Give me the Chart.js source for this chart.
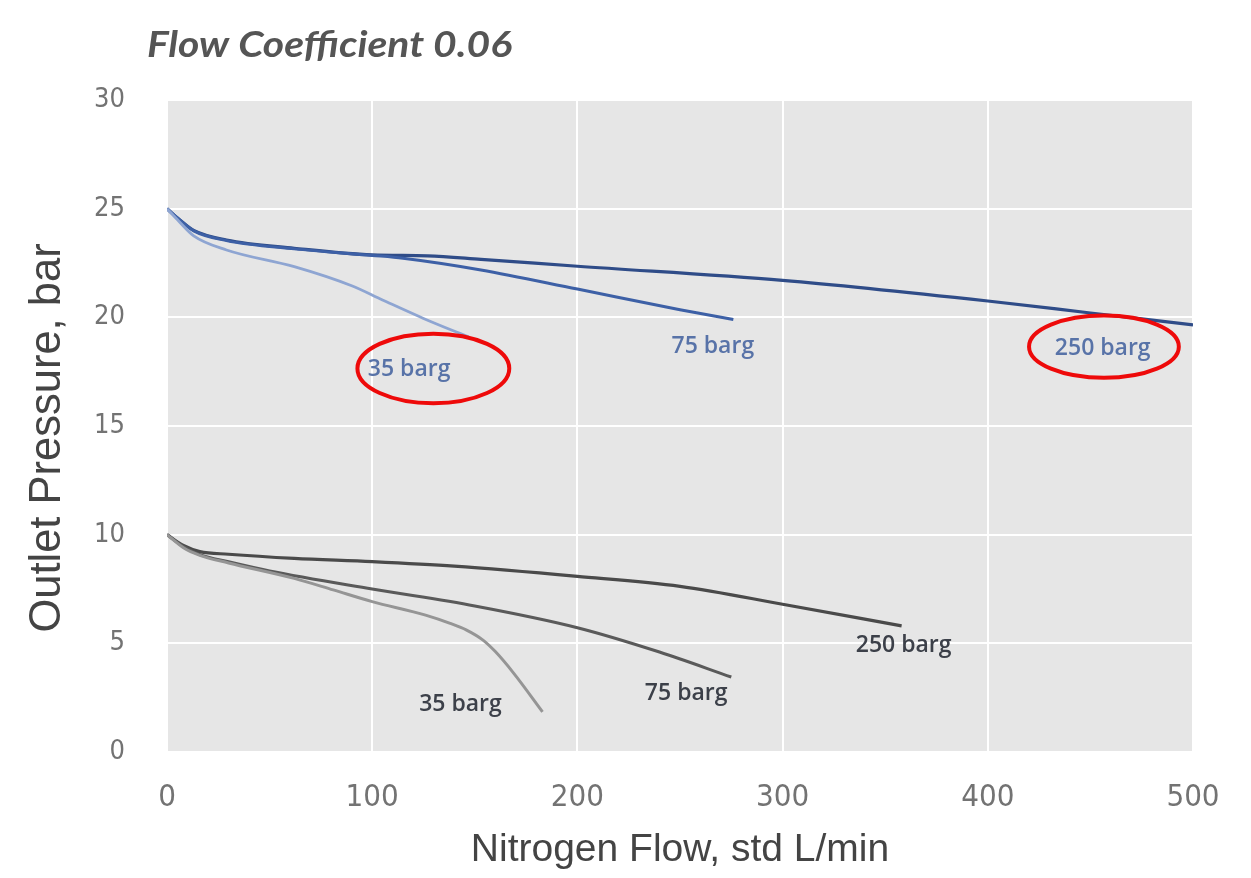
<!DOCTYPE html>
<html>
<head>
<meta charset="utf-8">
<script src="https://cdn.jsdelivr.net/npm/chart.js@4.4.1/dist/chart.umd.min.js"></script>
<style>
html,body{margin:0;padding:0;background:#fff;}
#wrap{width:1251px;height:878px;position:relative;}
</style>
</head>
<body>
<div id="wrap"><canvas id="c" width="1251" height="878"></canvas></div>
<script>
// ---- data ----
const chartTitle = "Flow Coefficient 0.06";
const xTitle = "Nitrogen Flow, std L/min";
const yTitle = "Outlet Pressure, bar";
const xTicks = [0, 100, 200, 300, 400, 500];
const yTicks = [0, 5, 10, 15, 20, 25, 30];

// upper family (25 bar outlet setting)
const hi250x = [0, 6, 13, 29, 62, 100, 127, 153, 200, 300, 400, 450, 500];
const hi250y = [25, 24.5, 24.0, 23.56, 23.18, 22.87, 22.83, 22.67, 22.35, 21.7, 20.75, 20.2, 19.65];
const hi75x  = [0, 6, 13, 29, 62, 100, 115, 153, 200, 250, 276];
const hi75y  = [25, 24.5, 23.98, 23.53, 23.15, 22.85, 22.72, 22.18, 21.3, 20.35, 19.9];
const hi35x  = [0, 6, 13, 29, 62, 90, 105, 125, 143, 147];
const hi35y  = [25, 24.4, 23.75, 23.1, 22.33, 21.45, 20.8, 19.95, 19.25, 19.1];

// lower family (10 bar outlet setting)
const lo250x = [0, 8, 16, 30, 62, 100, 140, 200, 250, 300, 358];
const lo250y = [10, 9.5, 9.22, 9.1, 8.91, 8.76, 8.55, 8.08, 7.62, 6.8, 5.8];
const lo75x  = [0, 8, 16, 30, 50, 100, 150, 200, 240, 275];
const lo75y  = [10, 9.45, 9.08, 8.75, 8.33, 7.5, 6.72, 5.72, 4.6, 3.45];
const lo35x  = [0, 8, 16, 30, 62, 81, 100, 126, 138, 146, 154, 160, 169, 183];
const lo35y  = [10, 9.4, 9.05, 8.7, 7.99, 7.46, 6.92, 6.3, 5.92, 5.61, 5.15, 4.62, 3.62, 1.85];

// curve labels (data coordinates)
const labelText = ["35 barg", "75 barg", "250 barg", "35 barg", "75 barg", "250 barg"];
const labelX = [118, 266, 456, 143, 253, 359];
const labelY = [17.6, 18.65, 18.55, 2.2, 2.7, 4.9];
const labelGroup = ["hi", "hi", "hi", "lo", "lo", "lo"];

// red highlight ellipses (data coordinates: centre and radii)
const ringX = [129.8, 456.6];
const ringY = [17.65, 18.65];
const ringRX = [37, 36.5];
const ringRY = [1.6, 1.43];

function pts(xs, ys){ return xs.map((x,i)=>({x:x, y:ys[i]})); }

const bgPlugin = {
  id:'bg',
  beforeDraw(chart){
    const {ctx, chartArea:a} = chart;
    ctx.save();
    ctx.fillStyle = '#ffffff';
    ctx.fillRect(0,0,chart.width,chart.height);
    ctx.fillStyle = '#e6e6e6';
    ctx.fillRect(a.left, a.top, a.right-a.left, a.bottom-a.top);
    ctx.restore();
  }
};

const decoPlugin = {
  id:'deco',
  afterDatasetsDraw(chart){
    const {ctx} = chart;
    const xs = chart.scales.x, ys = chart.scales.y;
    ctx.save();
    // labels
    ctx.textAlign = 'center';
    ctx.textBaseline = 'middle';
    labelText.forEach((t,i)=>{
      ctx.font = '600 23px "Open Sans", sans-serif';
      ctx.fillStyle = labelGroup[i]==='hi' ? '#5873a8' : '#3c4049';
      ctx.fillText(t, xs.getPixelForValue(labelX[i]), ys.getPixelForValue(labelY[i]));
    });
    // ellipses
    ctx.strokeStyle = '#ee0a0a';
    ctx.lineWidth = 4;
    ringX.forEach((cx,i)=>{
      const px = xs.getPixelForValue(cx), py = ys.getPixelForValue(ringY[i]);
      const rx = Math.abs(xs.getPixelForValue(cx+ringRX[i]) - px);
      const ry = Math.abs(ys.getPixelForValue(ringY[i]+ringRY[i]) - py);
      ctx.beginPath();
      ctx.ellipse(px, py, rx, ry, 0, 0, Math.PI*2);
      ctx.stroke();
    });
    ctx.restore();

    // chart title
    ctx.save();
    ctx.font = 'italic 700 36px Lato, "Open Sans", sans-serif';
    ctx.fillStyle = '#555555';
    ctx.textAlign = 'left';
    ctx.textBaseline = 'alphabetic';
    const w = ctx.measureText(chartTitle).width;
    ctx.translate(147, 57);
    ctx.scale(365/w, 1);
    ctx.fillText(chartTitle, 0, 0);
    ctx.restore();

    // y axis title
    ctx.save();
    ctx.font = '43.5px "Liberation Sans", Arial, sans-serif';
    ctx.fillStyle = '#444444';
    ctx.textAlign = 'center';
    ctx.textBaseline = 'middle';
    ctx.translate(48, 438);
    ctx.rotate(-Math.PI/2);
    ctx.fillText(yTitle, 0, 0);
    ctx.restore();
  }
};

const line = (data, color, w) => ({
  data, borderColor: color, borderWidth: w, pointRadius: 0, tension: 0.4,
  cubicInterpolationMode: 'monotone', fill: false
});

new Chart(document.getElementById('c'), {
  type: 'line',
  data: {
    datasets: [
      line(pts(lo35x, lo35y), '#959595', 3),
      line(pts(lo75x, lo75y), '#5a5a5a', 3),
      line(pts(lo250x, lo250y), '#4a4a4a', 3.2),
      line(pts(hi35x, hi35y), '#8ea5d2', 2.8),
      line(pts(hi75x, hi75y), '#3d60a6', 3),
      line(pts(hi250x, hi250y), '#2f4c88', 3.2)
    ]
  },
  options: {
    responsive: false,
    animation: false,
    events: [],
    layout: { padding: { top: 100, left: 0, right: 58, bottom: 0 } },
    plugins: { legend: { display: false }, tooltip: { enabled: false }, title: { display: false } },
    scales: {
      x: {
        type: 'linear', min: 0, max: 500,
        afterBuildTicks(s){ s.ticks = xTicks.map(v=>({value:v})); },
        afterFit(s){ s.height = 126; },
        grid: { color: '#ffffff', lineWidth: 2, drawTicks: false },
        border: { display: false },
        ticks: { padding: 27, color: '#737373', font: { family: '"Liberation Sans Narrow", "DejaVu Sans Condensed", sans-serif', size: 31 } },
        title: { display: true, text: xTitle, color: '#444444', padding: { top: 0, bottom: 4 },
                 font: { family: '"Liberation Sans", Arial, sans-serif', size: 39 } }
      },
      y: {
        type: 'linear', min: 0, max: 30,
        afterBuildTicks(s){ s.ticks = yTicks.map(v=>({value:v})); },
        afterFit(s){ s.width = 167; },
        grid: { color: '#ffffff', lineWidth: 2, drawTicks: false },
        border: { display: false },
        ticks: { padding: 42, color: '#737373', font: { family: '"Liberation Sans Narrow", "DejaVu Sans Condensed", sans-serif', size: 27 } },
        title: { display: false, text: yTitle }
      }
    }
  },
  plugins: [bgPlugin, decoPlugin]
});
</script>
</body>
</html>
